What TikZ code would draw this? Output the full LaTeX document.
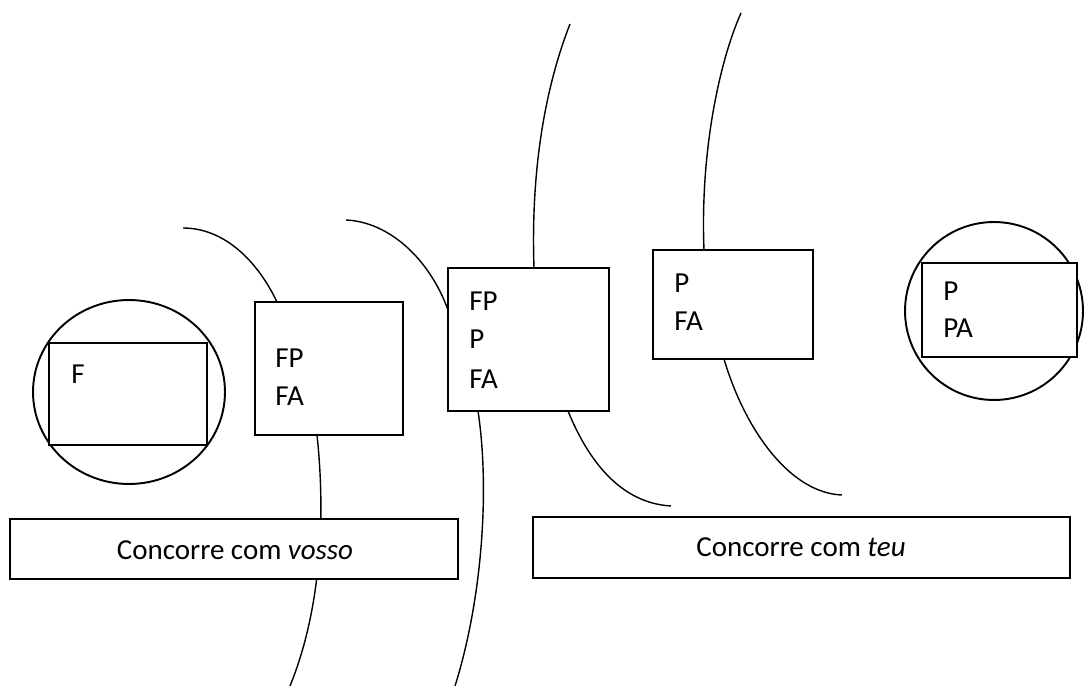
\documentclass[tikz,border=0pt]{standalone}
\usepackage{fontspec}
\setmainfont{Carlito}
\usetikzlibrary{shapes.geometric}
\tikzset{
  box/.style={draw, line width=1.1pt, fill=white, inner sep=0pt},
  ring/.style={draw, ellipse, line width=1.1pt, inner sep=0pt},
  lbl/.style={anchor=base west, inner sep=0pt, font=\fontsize{16.5}{20}\selectfont},
  mid/.style={anchor=base, inner sep=0pt, font=\fontsize{16.5}{20}\selectfont},
  curveline/.style={line width=0.8pt}
}
\begin{document}
\begin{tikzpicture}[x=0.02cm,y=-0.02cm]
\useasboundingbox (0,0) rectangle (1086,686);
\coordinate (c1a) at (183,228);
\coordinate (c1b) at (277,302);
\coordinate (c2a) at (317,435);
\coordinate (c2b) at (290,686);
\coordinate (c3a) at (346,220);
\coordinate (c3b) at (448,310);
\coordinate (c3c) at (478,411);
\coordinate (c3d) at (455,686);
\coordinate (c4a) at (570,24);
\coordinate (c4b) at (534,268);
\coordinate (c5a) at (568,411);
\coordinate (c5b) at (671,506);
\coordinate (c6a) at (741,13);
\coordinate (c6b) at (704,250);
\coordinate (c7a) at (724,359);
\coordinate (c7b) at (842,495);
\draw[curveline] (c1a) .. controls (225,228) and (258,262) .. (c1b);
\draw[curveline] (c2a) .. controls (324,500) and (325,600) .. (c2b);
\draw[curveline] (c3a) .. controls (390,222) and (430,260) .. (c3b);
\draw[curveline] (c3c) .. controls (490,490) and (482,600) .. (c3d);
\draw[curveline] (c4a) .. controls (552,70) and (530,150) .. (c4b);
\draw[curveline] (c5a) .. controls (588,460) and (620,503) .. (c5b);
\draw[curveline] (c6a) .. controls (720,60) and (700,150) .. (c6b);
\draw[curveline] (c7a) .. controls (745,430) and (790,493) .. (c7b);
\node[ring, minimum width=3.84cm, minimum height=3.68cm] (ringF) at (129,392) {};
\node[box, minimum width=3.16cm, minimum height=2.04cm] (boxF) at (128,394) {};
\node[box, minimum width=2.96cm, minimum height=2.66cm] (boxFPFA) at (329,368.5) {};
\node[box, minimum width=3.22cm, minimum height=2.86cm] (boxFPPFA) at (528.5,339.5) {};
\node[box, minimum width=3.2cm, minimum height=2.18cm] (boxPFA) at (733,304.5) {};
\node[ring, minimum width=3.56cm, minimum height=3.56cm] (ringP) at (994,311) {};
\node[box, minimum width=3.1cm, minimum height=1.88cm] (boxPPA) at (999.5,310) {};
\node[box, minimum width=8.96cm, minimum height=1.2cm] (vosso) at (234,549) {};
\node[box, minimum width=10.74cm, minimum height=1.22cm] (teu) at (801.5,547.5) {};
\node[lbl] (tF) at (71,383) {F};
\node[lbl] (tFPa) at (275,367) {FP};
\node[lbl] (tFAa) at (275,405) {FA};
\node[lbl] (tFPb) at (469,310) {FP};
\node[lbl] (tPb) at (469,348) {P};
\node[lbl] (tFAb) at (469,388) {FA};
\node[lbl] (tPc) at (674,292) {P};
\node[lbl] (tFAc) at (674,330) {FA};
\node[lbl] (tPd) at (943,300) {P};
\node[lbl] (tPAd) at (943,337) {PA};
\node[mid] (tvosso) at (235,559) {Concorre com \textit{vosso}};
\node[mid] (tteu) at (801,556) {Concorre com \textit{teu}};
\end{tikzpicture}
\end{document}
